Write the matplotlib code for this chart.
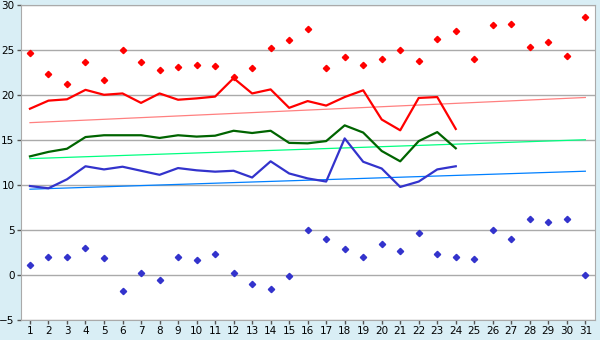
import matplotlib
matplotlib.use("Agg")
import matplotlib.pyplot as plt

# daily extremes (diamonds) for days 1..31
days = list(range(1, 32))
max_temp = [24.7, 22.4, 21.3, 23.7, 21.7, 25.0, 23.7, 22.85, 23.1, 23.4,
            23.3, 22.0, 23.0, 25.2, 26.1, 27.4, 23.0, 24.3, 23.4, 24.0,
            25.0, 23.85, 26.3, 27.1, 24.0, 27.85, 27.95, 25.4, 25.95, 24.4, 28.7]
min_temp = [1.1, 2.0, 2.0, 3.0, 1.85, -1.8, 0.2, -0.6, 2.0, 1.65,
            2.3, 0.2, -1.05, -1.5, -0.15, 5.0, 4.0, 2.85, 2.0, 3.5,
            2.65, 4.65, 2.3, 2.0, 1.75, 5.0, 4.0, 6.2, 5.85, 6.2, 0.0]

# running series, days 1..24
line_days = list(range(1, 25))
avg_max = [18.5, 19.4, 19.55, 20.6, 20.05, 20.2, 19.15, 20.2, 19.5, 19.65,
           19.85, 21.9, 20.2, 20.65, 18.6, 19.35, 18.85, 19.8, 20.55, 17.3,
           16.1, 19.7, 19.8, 16.25]
avg_mean = [13.2, 13.7, 14.05, 15.35, 15.55, 15.55, 15.55, 15.25, 15.55, 15.4,
            15.5, 16.05, 15.8, 16.05, 14.7, 14.65, 14.9, 16.65, 15.85, 13.8,
            12.65, 14.9, 15.9, 14.1]
avg_min = [9.9, 9.65, 10.65, 12.1, 11.75, 12.05, 11.6, 11.15, 11.9, 11.65,
           11.5, 11.6, 10.85, 12.65, 11.3, 10.75, 10.4, 15.2, 12.6, 11.85,
           9.8, 10.4, 11.75, 12.1]

# long-term trend lines, value at day 1 and day 31
trend_days = [1, 31]
trend_max = [16.95, 19.75]
trend_mean = [12.95, 15.05]
trend_min = [9.55, 11.55]

fig = plt.figure(figsize=(6, 3.4), dpi=100, facecolor="#d9eef5")
ax = fig.add_axes([0.0345, 0.0588, 0.9565, 0.9255])
ax.set_facecolor("white")

ax.plot(trend_days, trend_max, color="#ff8080", lw=0.9)
ax.plot(trend_days, trend_mean, color="#00ff80", lw=0.9)
ax.plot(trend_days, trend_min, color="#0080ff", lw=0.9)

ax.plot(line_days, avg_max, color="#ff0000", lw=1.6)
ax.plot(line_days, avg_mean, color="#006400", lw=1.6)
ax.plot(line_days, avg_min, color="#3333cc", lw=1.6)

ax.plot(days, max_temp, ls="none", marker="D", ms=3.2, color="#ff0000")
ax.plot(days, min_temp, ls="none", marker="D", ms=3.2, color="#3333cc")

ax.set_xlim(0.5, 31.5)
ax.set_ylim(-5, 30)
ax.set_xticks(days)
ax.set_yticks(range(-5, 31, 5))
ax.yaxis.grid(True, color="#aaaaaa", lw=1)
ax.set_axisbelow(True)
for s in ax.spines.values():
    s.set_color("#aaaaaa")
ax.tick_params(colors="#000000", labelsize=7.5, length=3, width=1, pad=1.5)
ax.tick_params(axis="both", color="#555555")

fig.savefig("out.png", dpi=100, facecolor=fig.get_facecolor())
